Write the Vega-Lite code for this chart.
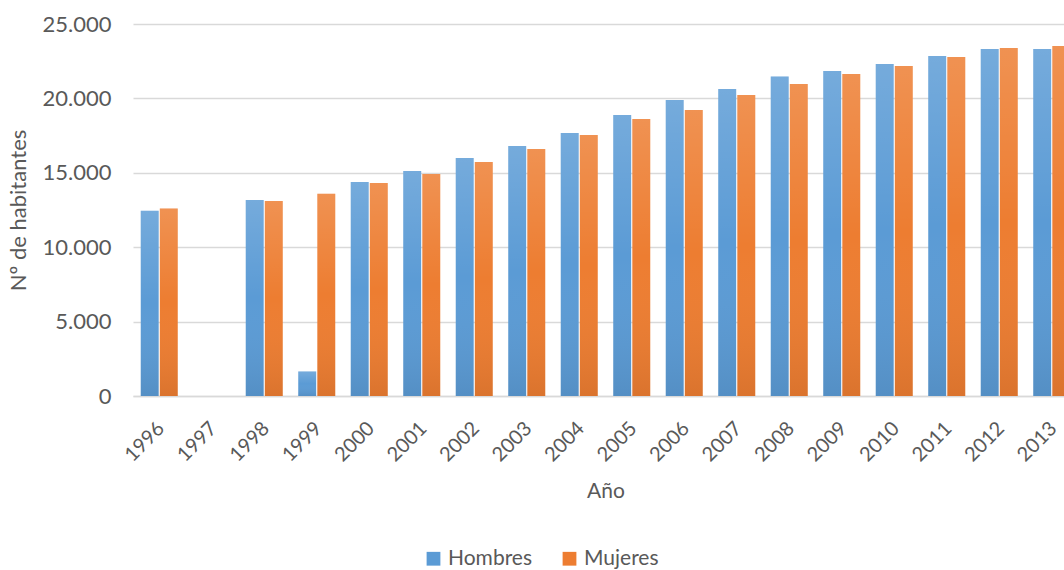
{
  "$schema": "https://vega.github.io/schema/vega-lite/v6.json",
  "autosize": "none",
  "width": 931,
  "height": 372,
  "padding": {"left": 133, "top": 24, "right": 0, "bottom": 174},
  "background": "white",
  "config": {
    "locale": {"number": {"decimal": ",", "thousands": ".", "grouping": [3], "currency": ["", " €"]}},
    "font": "Lato",
    "view": {"stroke": null}
  },
  "data": {
    "values": [
      {"year": "1996", "series": "Hombres", "value": 12450},
      {"year": "1996", "series": "Mujeres", "value": 12600},
      {"year": "1997", "series": "Hombres", "value": 0},
      {"year": "1997", "series": "Mujeres", "value": 0},
      {"year": "1998", "series": "Hombres", "value": 13170},
      {"year": "1998", "series": "Mujeres", "value": 13100},
      {"year": "1999", "series": "Hombres", "value": 1650},
      {"year": "1999", "series": "Mujeres", "value": 13600},
      {"year": "2000", "series": "Hombres", "value": 14380},
      {"year": "2000", "series": "Mujeres", "value": 14310},
      {"year": "2001", "series": "Hombres", "value": 15120},
      {"year": "2001", "series": "Mujeres", "value": 14920},
      {"year": "2002", "series": "Hombres", "value": 15990},
      {"year": "2002", "series": "Mujeres", "value": 15730},
      {"year": "2003", "series": "Hombres", "value": 16800},
      {"year": "2003", "series": "Mujeres", "value": 16600},
      {"year": "2004", "series": "Hombres", "value": 17670},
      {"year": "2004", "series": "Mujeres", "value": 17540},
      {"year": "2005", "series": "Hombres", "value": 18880},
      {"year": "2005", "series": "Mujeres", "value": 18620},
      {"year": "2006", "series": "Hombres", "value": 19890},
      {"year": "2006", "series": "Mujeres", "value": 19220},
      {"year": "2007", "series": "Hombres", "value": 20630},
      {"year": "2007", "series": "Mujeres", "value": 20230},
      {"year": "2008", "series": "Hombres", "value": 21470},
      {"year": "2008", "series": "Mujeres", "value": 20970},
      {"year": "2009", "series": "Hombres", "value": 21840},
      {"year": "2009", "series": "Mujeres", "value": 21640},
      {"year": "2010", "series": "Hombres", "value": 22310},
      {"year": "2010", "series": "Mujeres", "value": 22180},
      {"year": "2011", "series": "Hombres", "value": 22850},
      {"year": "2011", "series": "Mujeres", "value": 22780},
      {"year": "2012", "series": "Hombres", "value": 23320},
      {"year": "2012", "series": "Mujeres", "value": 23390},
      {"year": "2013", "series": "Hombres", "value": 23320},
      {"year": "2013", "series": "Mujeres", "value": 23520}
    ]
  },
  "encoding": {
    "x": {
      "field": "year", "type": "nominal",
      "scale": {"range": [0, 945], "paddingInner": 0.295, "paddingOuter": 0.1475},
      "axis": {
        "title": "Año", "titleFont": "Lato", "titleFontSize": 21, "titleFontWeight": "normal", "titleColor": "#595959", "titlePadding": 16,
        "labelAngle": -45, "labelFont": "Lato", "labelFontSize": 20, "labelColor": "#595959", "labelPadding": 22, "labelOffset": -5,
        "ticks": false, "domainColor": "#d9d9d9", "domainWidth": 1.5, "grid": false
      }
    },
    "xOffset": {"field": "series", "type": "nominal", "scale": {"paddingInner": 0.06}},
    "y": {
      "field": "value", "type": "quantitative",
      "scale": {"domain": [0, 25000]},
      "axis": {
        "title": "Nº de habitantes", "titleFont": "Lato", "titleFontSize": 22, "titleFontWeight": "normal", "titleColor": "#595959", "titlePadding": 12,
        "values": [0, 5000, 10000, 15000, 20000, 25000], "format": ",d",
        "labelFont": "Lato", "labelFontSize": 22, "labelColor": "#595959", "labelPadding": 22,
        "ticks": false, "domain": false, "gridColor": "#d9d9d9", "gridWidth": 1.5
      }
    }
  },
  "layer": [
    {
      "mark": {"type": "bar"},
      "encoding": {
        "color": {
          "field": "series", "type": "nominal",
          "scale": {"domain": ["Hombres", "Mujeres"], "range": ["#5b9bd5", "#ed7d31"]},
          "legend": {
            "title": null, "orient": "none", "direction": "horizontal", "legendX": 290, "legendY": 524,
            "symbolType": "square", "symbolSize": 190, "symbolStrokeWidth": 0,
            "labelFont": "Lato", "labelFontSize": 21, "labelColor": "#595959", "labelOffset": 4, "columnPadding": 26
          }
        }
      }
    },
    {
      "mark": {
        "type": "bar",
        "fill": {
          "gradient": "linear", "x1": 0, "y1": 0, "x2": 0, "y2": 1,
          "stops": [
            {"offset": 0, "color": "rgba(255,255,255,0.16)"},
            {"offset": 0.5, "color": "rgba(255,255,255,0)"},
            {"offset": 1, "color": "rgba(0,0,0,0.08)"}
          ]
        }
      },
      "encoding": {}
    }
  ]
}
